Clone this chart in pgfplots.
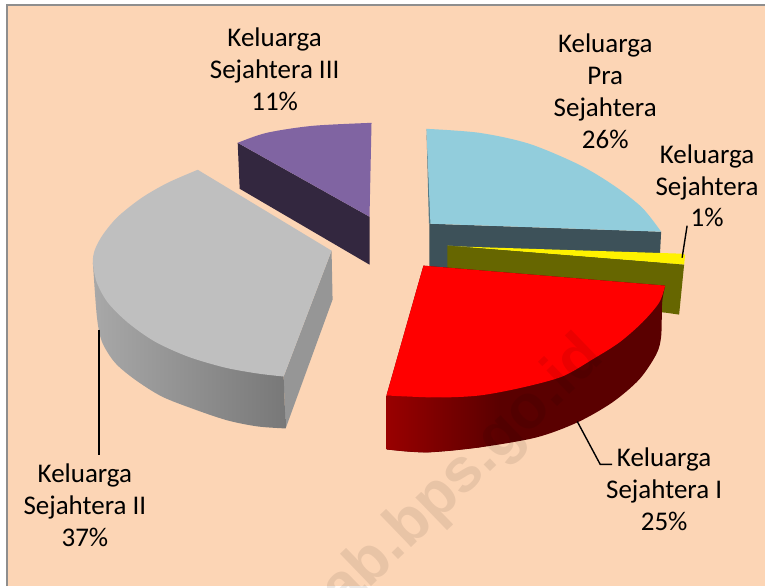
\documentclass[border=0pt]{standalone}
\usepackage{pgfplots}
\pgfplotsset{compat=1.18}
\usepackage{fontspec}
\setmainfont{Carlito}
\newfontfamily\wm{Liberation Sans}
\definecolor{bg}{HTML}{FCD5B5}
\definecolor{frm}{HTML}{8E8E8E}
\definecolor{bluetop}{HTML}{92CDDC}
\definecolor{blueside}{HTML}{3D5159}
\definecolor{blueleft}{HTML}{557A86}
\definecolor{olive}{HTML}{666600}
\definecolor{purptop}{HTML}{8064A2}
\definecolor{purpside}{HTML}{33273F}
\definecolor{greytop}{HTML}{BFBFBF}
\definecolor{greyside}{HTML}{969696}
\definecolor{redA}{HTML}{990000}
\definecolor{redB}{HTML}{5A0000}
\tikzset{lab/.style={font=\fontsize{27}{32}\selectfont, align=center, text=black, inner sep=0pt}}
\begin{document}
\begin{tikzpicture}
\begin{axis}[
  scale only axis, width=766pt, height=587pt,
  xmin=0, xmax=766, ymin=0, ymax=587, y dir=reverse,
  hide axis, clip=false,
]
% background and frame
\addplot[draw=none, fill=white] coordinates {(0,0)(766,0)(766,587)(0,587)} -- cycle;
\addplot[draw=none, fill=bg] coordinates {(7,5)(766,5)(766,587)(7,587)} -- cycle;
\addplot[frm, line width=2pt] coordinates {(7.5,587)(7.5,5.5)(766,5.5)};
% Pra Sejahtera
\addplot[draw=none, fill=blueside] coordinates {(430,224)(662,232)(660,270)(430,270)} -- cycle;
\addplot[draw=none, fill=blueleft] coordinates {(427,129)(431.5,224)(429.5,224)} -- cycle;
\addplot[smooth, draw=none, fill=bluetop] coordinates {(427,129)(480,133)(530,144)(580,165)(615,186)(643,208)(662,232)} -- (axis cs:431,224) -- cycle;
% Sejahtera (1%)
\addplot[draw=none, fill=yellow] coordinates {(448,246)(465,247)(682,254)(686,255)(685,265)} -- cycle;
\addplot[draw=none, fill=olive] coordinates {(448,246)(685,265)(680,315)(666,313)(448,300)} -- cycle;
% Sejahtera I
\addplot[smooth, draw=none, fill=redB] coordinates {(666,286)(663,303)(662,337)(657,355)(640,380)(613,403)(578,423)(537,438)(480,448)(427,453)(387,450)} -- (axis cs:387,396) -- (axis cs:424,266) -- cycle;
\addplot[draw=none, left color=redA, right color=redB] coordinates {(387,396)(387,450)(407,452)(427,453)(453,451)(480,448)(500,444)(500,392)(480,396)(437,398)} -- cycle;
\addplot[smooth, draw=none, fill=red] coordinates {(666,286)(660,303)(643,323)(620,343)(593,360)(563,377)(523,388)(480,396)(437,398)(387,396)} -- (axis cs:424,266) -- cycle;
% Sejahtera II
\addplot[draw=none, fill=greyside] coordinates {(332,251)(333,300)(286,429)(284,377)} -- cycle;
\addplot[smooth, draw=none, left color=black!34, right color=black!53] coordinates {(93,263)(97,317)(102,342)(115,363)(135,380)(162,397)(195,410)(228,421)(258,427)(286,429)} -- (axis cs:284,377) -- (axis cs:150,300) -- cycle;
\addplot[smooth, draw=none, fill=greytop] coordinates {(284,377)(258,374)(225,368)(188,357)(155,342)(128,323)(108,303)(97,283)(93,263)(95,250)(103,235)(118,217)(142,198)(168,183)(198,170)} -- (axis cs:332,251) -- cycle;
% Sejahtera III
\addplot[draw=none, fill=purpside] coordinates {(238,143)(240,189)(370,265)(370,217)} -- cycle;
\addplot[smooth, draw=none, fill=purptop] coordinates {(238,143)(267,133)(313,126)(372,123)} -- (axis cs:370,217) -- cycle;
% leader lines
\addplot[black, line width=1.4pt] coordinates {(99,330)(99,456)};
\addplot[black, line width=1.4pt] coordinates {(578,422)(601,465)(613,465)};
\addplot[black, line width=1.4pt] coordinates {(688,226)(683,258)};
% labels
\node[lab] at (axis cs:275,69.5) {Keluarga\\Sejahtera III\\11\%};
\node[lab] at (axis cs:606,91.5) {Keluarga\\Pra\\Sejahtera\\26\%};
\node[lab] at (axis cs:708,186) {Keluarga\\Sejahtera\\1\%};
\node[lab] at (axis cs:665,490) {Keluarga\\Sejahtera I\\25\%};
\node[lab] at (axis cs:85,506) {Keluarga\\Sejahtera II\\37\%};
% watermark
\node[overlay, inner sep=0pt, anchor=base east, rotate=44, text=black, text opacity=0.08, font=\wm\bfseries\fontsize{62}{62}\selectfont] at (axis cs:607,360) {ab.bps.go.id};
\end{axis}
\end{tikzpicture}
\end{document}
